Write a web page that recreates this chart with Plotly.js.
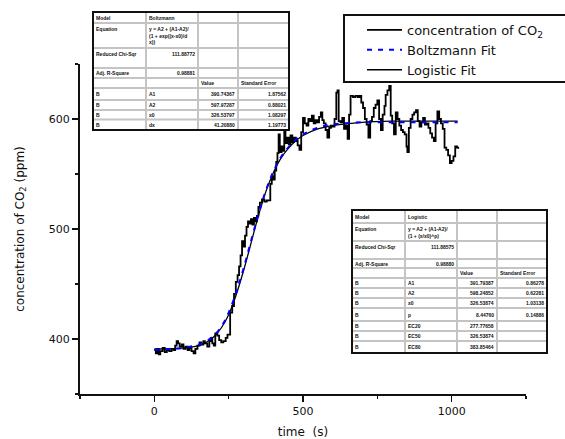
<!DOCTYPE html>
<html>
<head>
<meta charset="utf-8">
<script src="https://cdn.plot.ly/plotly-3.0.1.min.js"></script>
<style>html,body{margin:0;padding:0;background:#fff;}#chart{width:565px;height:439px;}</style>
</head>
<body>
<div id="chart"></div>
<script>
// ---- data ----
const timeData = [0,5,10,15,20,28,35,42,50,58,
  65,70,75,80,85,92,98,105,112,118,
  125,132,138,145,152,158,165,170,178,185,
  190,195,200,205,212,218,225,232,240,246,
  250,255,262,268,274,280,285,290,295,300,
  305,310,315,320,325,330,335,340,345,350,
  355,362,370,378,385,390,395,400,405,410,
  414,418,422,428,433,437,441,447,452,458,
  464,470,476,482,488,494,500,506,512,518,
  524,530,536,542,548,554,560,565,570,576,
  582,588,594,600,606,612,616,620,626,632,
  638,644,650,655,660,668,676,684,690,696,
  702,708,714,720,726,732,738,744,750,756,
  762,768,774,778,784,790,795,800,806,812,
  818,824,830,836,842,848,851,856,862,868,
  874,880,886,892,898,904,910,916,922,928,
  934,940,946,952,958,964,970,976,982,988,
  994,1000,1006,1012,1018,1022];
const co2Data = [390,387,391,386,389,392,388,390,389,391,
  390,394,398,396,393,395,391,393,390,392,
  389,387,391,394,397,395,398,396,393,398,
  401,396,394,405,403,399,397,398,401,404,
  404,424,430,441,452,458,466,476,489,484,
  494,502,507,505,509,504,510,507,512,520,
  524,527,525,526,526,541,548,545,553,561,
  569,586,570,575,571,590,578,583,577,585,
  579,583,580,576,572,588,601,596,594,600,
  598,603,596,599,597,602,606,599,596,590,
  583,592,594,593,600,624,626,598,597,601,
  591,594,582,604,621,620,621,620,621,615,
  610,600,595,583,598,602,610,613,617,600,
  590,604,612,622,626,630,603,596,586,606,
  600,594,590,588,586,575,570,592,600,604,
  606,608,598,593,597,601,595,596,592,587,
  583,580,596,607,600,596,591,574,572,567,
  560,562,566,575,574,573];
const timeFit = [0,50,100,150,175,200,225,250,275,300,325,350,375,400,425,450,475,500,550,600,700,800,900,1020];
const boltzmannFit = [390,391,392,395,398,403,411,424,442,464,489,513,535,552,565,574,581,586,592,595,597,597,597,597];
const logisticFit = [391,391,392,394,397,402,410,422,440,462,487,512,534,551,564,573,580,585,591,594,597,598,598,598];

const seriesNames = ['concentration of CO<sub>2</sub>', 'Boltzmann Fit', 'Logistic Fit'];
const xTickLabels = ['0', '500', '1000'];
const yTickLabels = ['400', '500', '600'];

const boltzmannTable = [
  ['Model', 'Boltzmann', '', ''],
  ['Equation', 'y = A2 + (A1-A2)/<br>(1 + exp((x-x0)/d<br>x))', '', ''],
  ['Reduced Chi-Sqr', '111.88772', '', ''],
  ['Adj. R-Square', '0.98881', '', ''],
  ['', '', 'Value', 'Standard Error'],
  ['B', 'A1', '390.74367', '1.87562'],
  ['B', 'A2', '597.97287', '0.88021'],
  ['B', 'x0', '326.53797', '1.08297'],
  ['B', 'dx', '41.20880', '1.19773']
];
const logisticTable = [
  ['Model', 'Logistic', '', ''],
  ['Equation', 'y = A2 + (A1-A2)/<br>(1 + (x/x0)^p)', '', ''],
  ['Reduced Chi-Sqr', '111.88575', '', ''],
  ['Adj. R-Square', '0.98880', '', ''],
  ['', '', 'Value', 'Standard Error'],
  ['B', 'A1', '391.79387', '0.86278'],
  ['B', 'A2', '598.24852', '0.62281'],
  ['B', 'x0', '326.53874', '1.03138'],
  ['B', 'p', '8.44760', '0.14886'],
  ['B', 'EC20', '277.77658', ''],
  ['B', 'EC50', '326.53874', ''],
  ['B', 'EC80', '383.85464', '']
];

// ---- layout geometry (pixels) ----
const M = {l: 80, r: 39, t: 64, b: 45};
const W = 565 - M.l - M.r, H = 439 - M.t - M.b;
const X = px => (px - M.l) / W;
const Y = py => (439 - M.b - py) / H;

const shapes = [];
const annotations = [];

function addTable(cols, rows, cells) {
  const x0 = cols[0], x1 = cols[cols.length - 1], y0 = rows[0], y1 = rows[rows.length - 1];
  shapes.push({type: 'rect', xref: 'paper', yref: 'paper', x0: X(x0), x1: X(x1), y0: Y(y0), y1: Y(y1),
    fillcolor: '#ffffff', line: {width: 0}, layer: 'above'});
  for (let i = 1; i < cols.length - 1; i++) {
    shapes.push({type: 'line', xref: 'paper', yref: 'paper', x0: X(cols[i]), x1: X(cols[i]), y0: Y(y0), y1: Y(y1),
      line: {color: '#c4c4c4', width: 2}});
  }
  for (let j = 1; j < rows.length - 1; j++) {
    shapes.push({type: 'line', xref: 'paper', yref: 'paper', x0: X(x0), x1: X(x1), y0: Y(rows[j]), y1: Y(rows[j]),
      line: {color: '#c4c4c4', width: 2}});
  }
  shapes.push({type: 'rect', xref: 'paper', yref: 'paper', x0: X(x0), x1: X(x1), y0: Y(y0), y1: Y(y1),
    line: {color: '#111', width: 2}});
  cells.forEach((row, j) => {
    const top = rows[j], bot = rows[j + 1];
    const tall = (bot - top) > 15;
    row.forEach((txt, i) => {
      if (!txt) return;
      const right = /^[0-9.\-]+$/.test(txt);
      annotations.push({
        xref: 'paper', yref: 'paper', showarrow: false,
        x: right ? X(cols[i + 1] - 2) : X(cols[i] + 2),
        xanchor: right ? 'right' : 'left',
        y: tall ? Y(top + 2) : Y((top + bot) / 2),
        yanchor: tall ? 'top' : 'middle',
        align: 'left',
        text: txt,
        font: {family: 'Liberation Sans, Arial', size: 5, color: '#111', weight: 'bold'},
        borderpad: 0
      });
    });
  });
}

addTable([93, 146, 198, 238, 289], [12, 23, 48, 68, 78, 88, 100, 110, 119.5, 130], boltzmannTable);
addTable([352, 405, 457, 497, 547], [210, 223, 241, 259, 268, 278, 288, 298, 308, 321, 331, 341, 353], logisticTable);

// legend frame
shapes.push({type: 'rect', xref: 'paper', yref: 'paper', x0: X(344), x1: X(570), y0: Y(15), y1: Y(82),
  fillcolor: 'rgba(255,255,255,0)', line: {color: '#111', width: 2}, layer: 'above'});

const traces = [
  {x: timeData, y: co2Data, type: 'scatter', mode: 'lines', name: seriesNames[0],
   line: {color: '#000', width: 1.8, shape: 'hv'}, legendrank: 1},
  {x: timeFit, y: logisticFit, type: 'scatter', mode: 'lines', name: seriesNames[2],
   line: {color: '#000', width: 1.3, shape: 'spline'}, legendrank: 3},
  {x: timeFit, y: boltzmannFit, type: 'scatter', mode: 'lines', name: seriesNames[1],
   line: {color: '#0000ff', width: 2, dash: '5px,6px', shape: 'spline'}, legendrank: 2}
];

const tickFont = {family: 'DejaVu Sans', size: 11, color: '#111'};
const layout = {
  width: 565, height: 439,
  margin: M,
  paper_bgcolor: '#fff', plot_bgcolor: '#fff',
  showlegend: true,
  legend: {x: X(362), y: Y(15), xanchor: 'left', yanchor: 'top', bgcolor: 'rgba(0,0,0,0)',
    borderwidth: 0, font: {family: 'DejaVu Sans', size: 13, color: '#111'}, tracegroupgap: 0, itemwidth: 35},
  xaxis: {
    range: [-250, 1250], tickmode: 'array', tickvals: [0, 500, 1000], ticktext: xTickLabels,
    ticks: 'outside', ticklen: 6, tickwidth: 1.5, tickcolor: '#111',
    showline: true, linecolor: '#111', linewidth: 2, showgrid: false, zeroline: false,
    minor: {tickmode: 'array', tickvals: [-250, 250, 750, 1250], ticks: 'outside', ticklen: 3, tickwidth: 1.5, tickcolor: '#111', showgrid: false},
    tickfont: tickFont,
    title: {text: 'time  (s)', font: {family: 'DejaVu Sans', size: 12, color: '#111'}, standoff: 10}
  },
  yaxis: {
    range: [350, 650], tickmode: 'array', tickvals: [400, 500, 600], ticktext: yTickLabels,
    ticks: 'outside', ticklen: 6, tickwidth: 1.5, tickcolor: '#111',
    showline: true, linecolor: '#111', linewidth: 2, showgrid: false, zeroline: false,
    minor: {tickmode: 'array', tickvals: [350, 450, 550, 650], ticks: 'outside', ticklen: 3, tickwidth: 1.5, tickcolor: '#111', showgrid: false},
    tickfont: tickFont,
    title: {text: 'concentration of CO<sub>2</sub> (ppm)', font: {family: 'DejaVu Sans', size: 12, color: '#111'}, standoff: 22}
  },
  shapes: shapes,
  annotations: annotations
};

Plotly.newPlot('chart', traces, layout, {displayModeBar: false, staticPlot: true});
</script>
</body>
</html>
